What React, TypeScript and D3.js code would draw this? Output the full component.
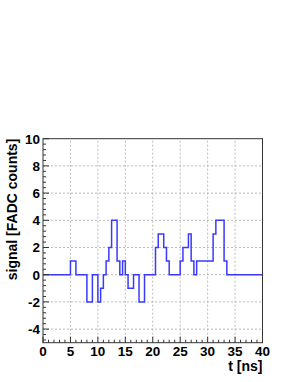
import React from "react";
import * as d3 from "d3";

// FADC trace: level holds from each time until the next one
const stepTimes = [0, 5, 6, 8, 9, 10, 10.5, 11, 11.5, 12, 12.5, 13.5, 14, 14.5, 15, 15.5, 16.5, 17.5, 18.5, 20.5, 21, 22, 22.5, 23, 25, 25.5, 26.5, 27, 27.5, 28, 31, 31.5, 33, 33.5, 40];
const stepLevels = [0, 1, 0, -2, 0, -2, -1, 0, 1, 2, 4, 1, 0, 1, 0, -1, 0, -2, 0, 2, 3, 2, 1, 0, 1, 2, 3, 1, 0, 1, 3, 4, 1, 0, 0];

const xTicks = [0, 5, 10, 15, 20, 25, 30, 35, 40];
const yTicks = [-4, -2, 0, 2, 4, 6, 8, 10];

const W = 295;
const H = 382;
const margin = { top: 138.7, right: 32.5, bottom: 39.3, left: 43 };
const font = "'Liberation Sans', Arial, Helvetica, sans-serif";

export default function App() {
  const x = d3.scaleLinear().domain([0, 40]).range([margin.left, W - margin.right]);
  const y = d3.scaleLinear().domain([-5, 10]).range([H - margin.bottom, margin.top]);

  const pts: [number, number][] = stepTimes.map((t, i) => [t, stepLevels[i]]);
  const line = d3
    .line<[number, number]>()
    .x((d) => x(d[0]))
    .y((d) => y(d[1]))
    .curve(d3.curveStepAfter);

  const x0 = x(0), x1 = x(40), yb = y(-5), yt = y(10);

  // minor ticks: x every 1 ns, y every 0.4
  const xMinor = d3.range(0, 41, 1).filter((v) => v % 5 !== 0);
  const yMinor = d3.range(-4.8, 10, 0.4).filter((v) => Math.abs(v / 2 - Math.round(v / 2)) > 0.01);

  return (
    <svg
      width={W}
      height={H}
      style={{ position: "absolute", left: 0, top: 0, background: "#fff" }}
      fontFamily={font}
      fontWeight="bold"
    >
      {/* grid */}
      {xTicks.slice(1, -1).map((t) => (
        <line key={"gx" + t} x1={x(t)} x2={x(t)} y1={yb} y2={yt} stroke="#aaa" strokeWidth={0.8} strokeDasharray="2,2" />
      ))}
      {yTicks.filter((t) => t < 10).map((t) => (
        <line key={"gy" + t} x1={x0} x2={x1} y1={y(t)} y2={y(t)} stroke="#aaa" strokeWidth={0.8} strokeDasharray="2,2" />
      ))}

      {/* signal */}
      <path d={line(pts) ?? ""} fill="none" stroke="#3a3aff" strokeWidth={1.5} />

      {/* frame */}
      <rect x={x0} y={yt} width={x1 - x0} height={yb - yt} fill="none" stroke="#333" strokeWidth={1} />

      {/* x ticks */}
      {xTicks.map((t) => (
        <line key={"xt" + t} x1={x(t)} x2={x(t)} y1={yb} y2={yb - 6} stroke="#333" />
      ))}
      {xMinor.map((t) => (
        <line key={"xm" + t} x1={x(t)} x2={x(t)} y1={yb} y2={yb - 3} stroke="#333" />
      ))}
      {xTicks.map((t) => (
        <text key={"xl" + t} x={x(t)} y={356} fontSize={13.5} textAnchor="middle">
          {t}
        </text>
      ))}

      {/* y ticks */}
      {yTicks.map((t) => (
        <line key={"yt" + t} x1={x0} x2={x0 + 6} y1={y(t)} y2={y(t)} stroke="#333" />
      ))}
      {yMinor.map((t) => (
        <line key={"ym" + t.toFixed(1)} x1={x0} x2={x0 + 3} y1={y(t)} y2={y(t)} stroke="#333" />
      ))}
      {yTicks.map((t) => (
        <text key={"yl" + t} x={40} y={y(t) + 4.8} fontSize={13.5} textAnchor="end">
          {t}
        </text>
      ))}

      {/* titles */}
      <text x={x1} y={371} fontSize={14} textAnchor="end">
        t [ns]
      </text>
      <text transform={`translate(17,${yt}) rotate(-90)`} fontSize={14} textAnchor="end">
        signal [FADC counts]
      </text>
    </svg>
  );
}
